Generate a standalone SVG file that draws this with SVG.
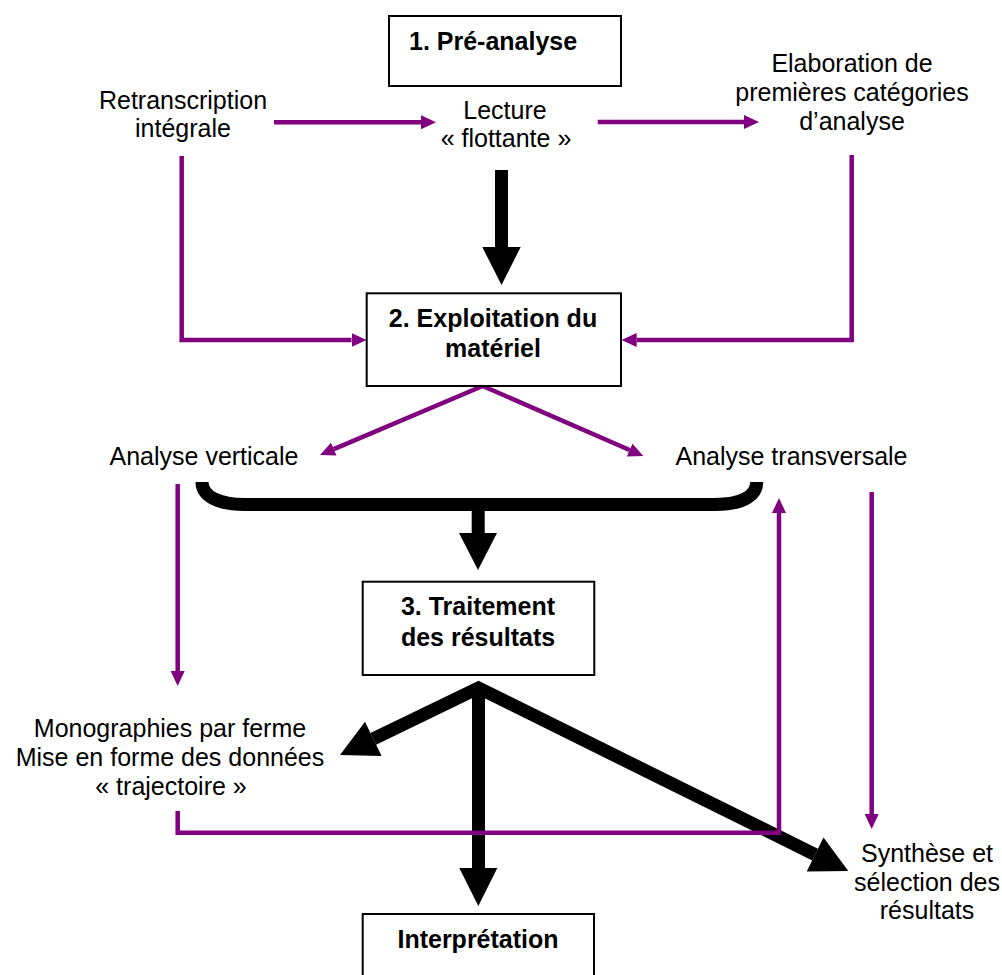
<svg xmlns="http://www.w3.org/2000/svg" width="1002" height="975" viewBox="0 0 1002 975">
<style>
text{font-family:"Liberation Sans",Arial,sans-serif;font-size:25px;fill:#000;text-anchor:middle}
.b{font-weight:bold}
.box{fill:#fff;stroke:#000;stroke-width:2}
.p{fill:none;stroke:#800080;stroke-width:4.5;marker-end:url(#ph)}
.k{fill:none;stroke:#000;stroke-width:13}
.kh{fill:#000}
</style>
<defs>
<marker id="ph" viewBox="0 0 15 14" refX="0" refY="7" markerWidth="15" markerHeight="14" markerUnits="userSpaceOnUse" orient="auto">
<path d="M0,0 L15,7 L0,14 z" fill="#800080"/>
</marker>
</defs>
<rect width="1002" height="975" fill="#fff"/>
<g id="connectors">
<g id="black">
<rect x="495" y="170" width="13" height="78" fill="#000"/>
<polygon class="kh" points="482.3,247 520.7,247 501.5,285"/>
<path class="k" d="M202,482 C202,497 220,504.5 245,504.5 H715 C740,504.5 756.7,497 756.7,482"/>
<rect x="471.7" y="504" width="13" height="30" fill="#000"/>
<polygon class="kh" points="459,533 497,533 478,570"/>
<path class="k" stroke-linejoin="miter" d="M373.3,738.9 L478.5,688 L815.1,854.6"/>
<line class="k" x1="478.5" y1="686" x2="478.5" y2="869"/>
<polygon class="kh" points="340,755 365,721.8 381.6,756"/>
<polygon class="kh" points="848.3,871 806.7,871.6 823.5,837.6"/>
<polygon class="kh" points="459.3,868 497.3,868 478.3,906"/>
</g>
<g id="purple">
<path class="p" d="M274,122.3 H421"/>
<path class="p" d="M597.7,122 H744"/>
<path class="p" d="M181.7,156 V340 H351.5"/>
<path class="p" d="M851.7,155 V340 H636.7"/>
<path class="p" d="M482.7,386 L333.8,449.1"/>
<path class="p" d="M482.7,386 L629.6,450"/>
<path class="p" d="M177.7,484 V671"/>
<path class="p" d="M177.7,811 V832.7 H779 V513"/>
<path class="p" d="M871.7,492 V814"/>
</g>
</g>
<g id="n1">
<rect class="box" x="389" y="16" width="232" height="70"/>
<text class="b" x="409" y="50" style="text-anchor:start">1. Pré-analyse</text>
</g>
<g id="n-retranscription">
<text x="183" y="109">Retranscription</text>
<text x="183" y="137">intégrale</text>
</g>
<g id="n-lecture">
<text x="505" y="119">Lecture</text>
<text x="506" y="147">« flottante »</text>
</g>
<g id="n-elaboration">
<text x="852" y="72">Elaboration de</text>
<text x="852" y="101">premières catégories</text>
<text x="852" y="130">d’analyse</text>
</g>
<g id="n2">
<rect class="box" x="366.7" y="293.3" width="254.3" height="92.7"/>
<text class="b" x="493" y="327">2. Exploitation du</text>
<text class="b" x="493" y="357">matériel</text>
</g>
<g id="n-verticale">
<text x="204" y="465">Analyse verticale</text>
</g>
<g id="n-transversale">
<text x="791.5" y="465">Analyse transversale</text>
</g>
<g id="n3">
<rect class="box" x="362.7" y="581.7" width="231.6" height="93.3"/>
<text class="b" x="478" y="615">3. Traitement</text>
<text class="b" x="478" y="646">des résultats</text>
</g>
<g id="n-monographies">
<text x="170" y="737">Monographies par ferme</text>
<text x="170" y="766">Mise en forme des données</text>
<text x="171" y="795">« trajectoire »</text>
</g>
<g id="n-synthese">
<text x="927" y="862">Synthèse et</text>
<text x="927" y="891">sélection des</text>
<text x="927" y="919">résultats</text>
</g>
<g id="n4">
<rect class="box" x="362.7" y="914" width="231.3" height="80"/>
<text class="b" x="478" y="948">Interprétation</text>
</g>
</svg>
